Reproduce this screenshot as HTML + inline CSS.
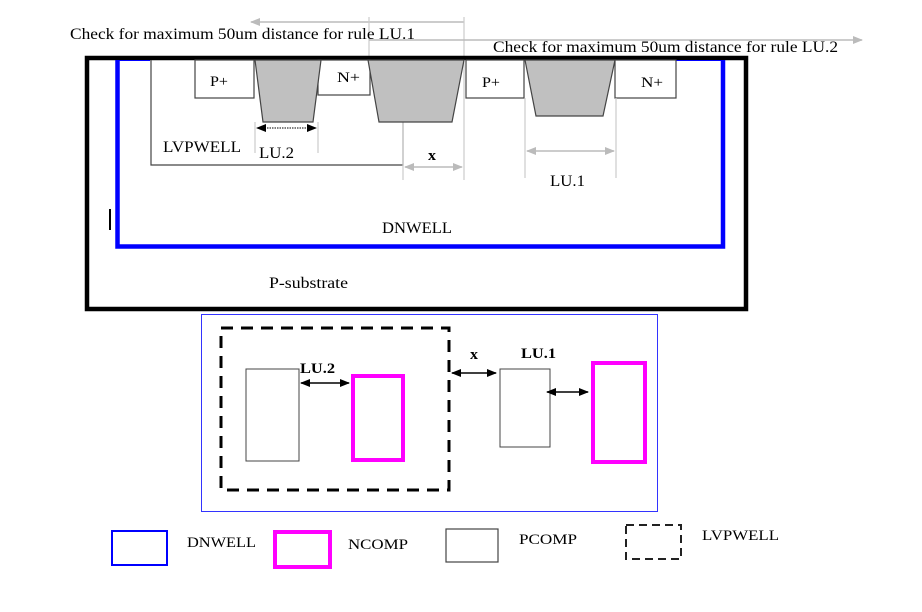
<!DOCTYPE html>
<html><head><meta charset="utf-8"><style>
html,body{margin:0;padding:0;background:#fff;}
svg{display:block;}
text{font-family:"Liberation Serif",serif;fill:#000;}
</style></head><body>
<svg width="922" height="612" viewBox="0 0 922 612" xmlns="http://www.w3.org/2000/svg">
<defs>
<marker id="ga" markerWidth="10" markerHeight="8" refX="9" refY="4" orient="auto-start-reverse" markerUnits="userSpaceOnUse"><path d="M0,0 L10,4 L0,8 Z" fill="#bbb"/></marker>
<marker id="ba" markerWidth="10" markerHeight="8" refX="9" refY="4" orient="auto-start-reverse" markerUnits="userSpaceOnUse"><path d="M0,0 L10,4 L0,8 Z" fill="#000"/></marker>
</defs>
<line x1="464" y1="22" x2="251" y2="22" stroke="#bbb" stroke-width="1.5" marker-end="url(#ga)"/>
<line x1="464" y1="17" x2="464" y2="180" stroke="#ccc" stroke-width="1.2"/>
<line x1="369" y1="17" x2="369" y2="60" stroke="#ccc" stroke-width="1.2"/>
<line x1="369" y1="40" x2="862" y2="40" stroke="#bbb" stroke-width="1.5" marker-end="url(#ga)"/>
<text x="70" y="39" font-size="16" textLength="345" lengthAdjust="spacingAndGlyphs">Check for maximum 50um distance for rule LU.1</text>
<text x="493" y="52" font-size="16" textLength="345" lengthAdjust="spacingAndGlyphs">Check for maximum 50um distance for rule LU.2</text>
<rect x="87" y="58" width="659" height="251" fill="none" stroke="#000" stroke-width="4.5"/>
<path d="M150,60.5 H117.5 V246.5 H723 V60.5 H676" fill="none" stroke="#0000ff" stroke-width="1"/>
<path d="M117.5,60 V246.5 H723 V60" fill="none" stroke="#0000ff" stroke-width="4.5"/>
<path d="M151,60 V165 H403 V122" fill="none" stroke="#444" stroke-width="1.2"/>
<line x1="403" y1="122" x2="403" y2="180" stroke="#ccc" stroke-width="1.2"/>
<rect x="195" y="60" width="59" height="38" fill="#fff" stroke="#444" stroke-width="1.2"/>
<rect x="318" y="60" width="52" height="35" fill="#fff" stroke="#444" stroke-width="1.2"/>
<rect x="466" y="60" width="58" height="38" fill="#fff" stroke="#444" stroke-width="1.2"/>
<rect x="615" y="60" width="61" height="38" fill="#fff" stroke="#444" stroke-width="1.2"/>
<polygon points="255,60 321,60 313,122 263,122" fill="#c0c0c0" stroke="#444" stroke-width="1.2"/>
<polygon points="368,60 464,60 452,122 379,122" fill="#c0c0c0" stroke="#444" stroke-width="1.2"/>
<polygon points="525,60 615,60 603,116 536,116" fill="#c0c0c0" stroke="#444" stroke-width="1.2"/>
<text x="210" y="86" font-size="15" textLength="18" lengthAdjust="spacingAndGlyphs">P+</text>
<text x="337" y="82" font-size="15" textLength="23" lengthAdjust="spacingAndGlyphs">N+</text>
<text x="482" y="87" font-size="15" textLength="18" lengthAdjust="spacingAndGlyphs">P+</text>
<text x="641" y="87" font-size="15" textLength="22" lengthAdjust="spacingAndGlyphs">N+</text>
<line x1="255" y1="122" x2="255" y2="153" stroke="#ccc" stroke-width="1.2"/>
<line x1="318" y1="122" x2="318" y2="153" stroke="#ccc" stroke-width="1.2"/>
<line x1="257" y1="128" x2="316" y2="128" stroke="#000" stroke-width="1" stroke-dasharray="1.5,1" marker-start="url(#ba)" marker-end="url(#ba)"/>
<text x="163" y="152" font-size="16" textLength="78" lengthAdjust="spacingAndGlyphs">LVPWELL</text>
<text x="259" y="158" font-size="16" textLength="35" lengthAdjust="spacingAndGlyphs">LU.2</text>
<line x1="405" y1="167" x2="462" y2="167" stroke="#bbb" stroke-width="1.5" marker-start="url(#ga)" marker-end="url(#ga)"/>
<text x="428" y="160" font-size="15" font-weight="bold" textLength="8" lengthAdjust="spacingAndGlyphs">x</text>
<line x1="525" y1="98" x2="525" y2="178" stroke="#ccc" stroke-width="1.2"/>
<line x1="616" y1="98" x2="616" y2="178" stroke="#ccc" stroke-width="1.2"/>
<line x1="527" y1="151" x2="614" y2="151" stroke="#bbb" stroke-width="1.5" marker-start="url(#ga)" marker-end="url(#ga)"/>
<text x="550" y="186" font-size="16" textLength="35" lengthAdjust="spacingAndGlyphs">LU.1</text>
<line x1="110" y1="209" x2="110" y2="230" stroke="#000" stroke-width="2"/>
<text x="382" y="233" font-size="16" textLength="70" lengthAdjust="spacingAndGlyphs">DNWELL</text>
<text x="269" y="288" font-size="16" textLength="79" lengthAdjust="spacingAndGlyphs">P-substrate</text>
<rect x="201.5" y="314.5" width="456" height="197" fill="none" stroke="#3333ff" stroke-width="1"/>
<rect x="221" y="328" width="228" height="162" fill="none" stroke="#000" stroke-width="3" stroke-dasharray="12,8"/>
<rect x="246" y="369" width="53" height="92" fill="#fff" stroke="#444" stroke-width="1"/>
<rect x="353" y="376" width="50" height="84" fill="none" stroke="#ff00ff" stroke-width="4"/>
<line x1="301" y1="383" x2="349" y2="383" stroke="#000" stroke-width="1.5" marker-start="url(#ba)" marker-end="url(#ba)"/>
<text x="300" y="373" font-size="15" font-weight="bold" textLength="35" lengthAdjust="spacingAndGlyphs">LU.2</text>
<line x1="452" y1="373" x2="496" y2="373" stroke="#000" stroke-width="1.5" marker-start="url(#ba)" marker-end="url(#ba)"/>
<text x="470" y="359" font-size="15" font-weight="bold" textLength="8" lengthAdjust="spacingAndGlyphs">x</text>
<rect x="500" y="369" width="50" height="78" fill="#fff" stroke="#444" stroke-width="1"/>
<text x="521" y="358" font-size="15" font-weight="bold" textLength="35" lengthAdjust="spacingAndGlyphs">LU.1</text>
<line x1="547" y1="392" x2="588" y2="392" stroke="#000" stroke-width="1.5" marker-start="url(#ba)" marker-end="url(#ba)"/>
<rect x="593" y="363" width="52" height="99" fill="none" stroke="#ff00ff" stroke-width="4"/>
<rect x="112" y="531" width="55" height="34" fill="none" stroke="#0000ff" stroke-width="2"/>
<text x="187" y="547" font-size="15" textLength="69" lengthAdjust="spacingAndGlyphs">DNWELL</text>
<rect x="275" y="532" width="55" height="35" fill="none" stroke="#ff00ff" stroke-width="4"/>
<text x="348" y="549" font-size="15" textLength="60" lengthAdjust="spacingAndGlyphs">NCOMP</text>
<rect x="446" y="529" width="52" height="33" fill="none" stroke="#444" stroke-width="1.2"/>
<text x="519" y="544" font-size="15" textLength="58" lengthAdjust="spacingAndGlyphs">PCOMP</text>
<rect x="626" y="525" width="55" height="34" fill="none" stroke="#222" stroke-width="2" stroke-dasharray="8,5"/>
<text x="702" y="540" font-size="15" textLength="77" lengthAdjust="spacingAndGlyphs">LVPWELL</text>
</svg>
</body></html>
